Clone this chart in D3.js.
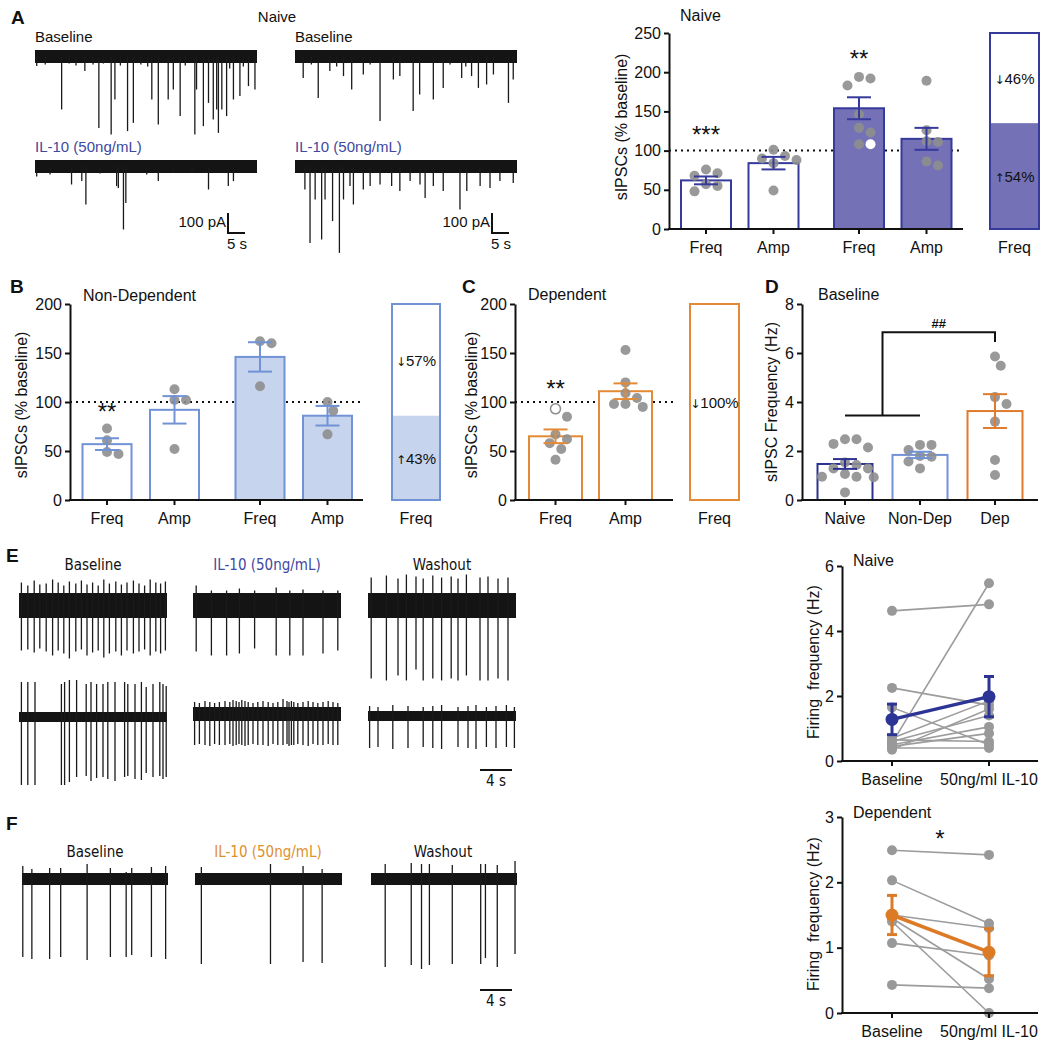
<!DOCTYPE html>
<html><head><meta charset="utf-8">
<script src="https://cdn.jsdelivr.net/npm/d3@7"></script>
<style>body{margin:0;background:#fff}</style>
</head><body><svg id="c" width="1050" height="1046"></svg>
<script>
// ================= DATA =================
// Panel A bar chart (Naive), % baseline
const barLabels = ["Freq", "Amp", "Freq", "Amp"];
const naiveMeans = [62, 84, 154, 115];
const naiveSem = [5, 8, 14, 14];
const naivePoints = [[71, 68, 76, 57, 48, 55], [101, 93, 88, 84, 49, 90], [192, 194, 183, 146, 129, 123, 108], [189, 126, 111, 112, 81, 86]];
const naiveOpen = [null, null, 108, null];
const naiveSplit = [54, 46]; // % up, % down
// Panel B (Non-Dependent)
const nonDepMeans = [57, 92, 146, 86];
const nonDepSem = [6, 14, 15, 10];
const nonDepPoints = [[73, 61, 47, 49], [113, 102, 102, 52], [162, 160, 116], [100, 91, 67]];
const nonDepSplit = [43, 57];
// Panel C (Dependent)
const depLabels = ["Freq", "Amp"];
const depMeans = [65, 111];
const depSem = [7, 8];
const depPoints = [[85, 67, 62, 58, 52, 41], [153, 120, 98, 95, 98, 109, 104]];
const depOpen = [93, null];
const depSplit = [0, 100];
// Panel D baseline sIPSC frequency (Hz)
const groupLabels = ["Naive", "Non-Dep", "Dep"];
const groupMeans = [1.47, 1.84, 3.63];
const groupSem = [0.2, 0.13, 0.69];
const groupPoints = [
  [2.48, 2.48, 2.29, 2.14, 1.29, 1.43, 1.53, 1.29, 0.95, 0.95, 0.93, 1.06, 0.31],
  [2.25, 2.25, 2.04, 1.77, 1.8, 1.57, 1.29],
  [5.86, 5.48, 4.2, 3.92, 3.2, 1.63, 1.02]];
const bracketLow = 3.45, bracketHigh = 6.85, bracketDrop = 6.45;
// Panel E/F right: firing frequency (Hz), baseline vs IL-10
const pairLabels = ["Baseline", "50ng/ml IL-10"];
const naiveFiringBase = [4.62, 2.25, 1.65, 0.55, 0.7, 0.6, 0.5, 0.45, 0.65, 0.4, 0.35];
const naiveFiringIL10 = [4.82, 1.72, 0.5, 5.47, 1.85, 1.4, 1.05, 0.85, 0.6, 0.4, 1.6];
const naiveFiringMean = [1.28, 1.98];
const naiveFiringSem = [0.47, 0.62];
const depFiringBase = [2.49, 2.03, 1.5, 1.4, 1.45, 1.07, 0.43];
const depFiringIL10 = [2.42, 1.37, 1.3, 0.0, 0.52, 0.88, 0.38];
const depFiringMean = [1.5, 0.93];
const depFiringSem = [0.3, 0.36];

// Panel A traces: event times (s) and amplitudes (pA)
const a1T = [0.5, 3, 7.8, 10, 12, 14.6, 17, 18.7, 20, 22.3, 23.4, 25, 27.1, 28.8, 31, 33, 34.2, 36.1, 39.0, 40.5, 42.5, 44, 46.8, 47.3, 49.3, 50.8, 52.2, 53.2, 53.7, 54.7, 56.1, 57, 58.1, 60.0, 61, 62.5, 64.4];
const a1A = [48, 40, 265, 35, 45, 73, 40, 357, 35, 390, 215, 45, 373, 332, 40, 50, 215, 340, 215, 165, 298, 45, 390, 165, 348, 232, 315, 265, 382, 265, 298, 60, 215, 198, 50, 148, 165];
const a2T = [0.5, 4.4, 10.7, 13.7, 14.9, 19, 23.9, 24.4, 25.9, 26.6, 32.7, 36.1, 40.5, 46, 50.8, 56.6, 58.1];
const a2A = [50, 40, 90, 73, 190, 35, 98, 108, 315, 183, 40, 73, 30, 30, 115, 98, 73];
const a3T = [2.4, 4.8, 6.8, 10.2, 12.2, 14.2, 16.6, 20.0, 22, 24.9, 28.8, 30.7, 34.6, 36.5, 40.5, 43.4, 45.4, 48.8, 50, 51.7, 53.7, 56.1, 58.1, 62.5, 63.9];
const a3A = [107, 40, 207, 73, 50, 98, 165, 90, 40, 323, 115, 98, 273, 190, 215, 157, 40, 107, 50, 98, 157, 140, 90, 232, 115];
const a4T = [2.9, 4.4, 5.9, 7.8, 8.8, 11.0, 13.0, 14.2, 16.1, 17.1, 20.0, 22.0, 24.9, 28.3, 30.7, 33.7, 36.6, 38.1, 40.5, 43.4, 48.3, 50.3, 54.2, 57.1, 60.0, 63.9];
const a4A = [115, 382, 165, 365, 165, 273, 432, 165, 98, 190, 115, 98, 90, 98, 123, 73, 90, 157, 98, 123, 215, 123, 98, 107, 73, 82];

// Panel E traces: spike times (s), downward and upward amplitudes (µV)
const e1T = [0.3, 1.1, 1.9, 2.6, 3.4, 4.2, 4.9, 5.6, 6.3, 7.1, 7.8, 8.5, 9.2, 9.9, 10.6, 11.3, 12.1, 12.8, 13.5, 14.3, 15.0, 15.7, 16.4, 17.1, 17.7, 18.3];
const e1D = [90, 88, 94, 86, 92, 100, 90, 96, 106, 92, 88, 100, 94, 90, 104, 96, 92, 100, 90, 96, 92, 88, 100, 92, 96, 90];
const e1U = [46, 40, 50, 42, 44, 52, 46, 40, 48, 44, 50, 42, 46, 40, 52, 44, 48, 42, 46, 50, 44, 40, 52, 46, 44, 48];
const e2T = [0.4, 2.3, 4.2, 5.8, 7.7, 10.4, 12.1, 13.75, 16.25, 18.1];
const e2D = [92, 100, 100, 96, 86, 100, 100, 100, 96, 90];
const e2U = [40, 30, 30, 34, 30, 36, 30, 32, 30, 30];
const e3T = [0.4, 2.3, 3.75, 4.8, 6.0, 6.9, 8.1, 9.2, 10.4, 11.25, 12.3, 14.0, 15.0, 16.25, 17.5];
const e3D = [146, 150, 140, 150, 128, 150, 146, 150, 146, 150, 140, 150, 150, 146, 150];
const e3U = [56, 60, 54, 62, 58, 54, 60, 56, 58, 54, 62, 56, 58, 54, 56];
const e4T = [0.3, 1.1, 2.0, 5.3, 5.7, 6.3, 7.2, 8.4, 9.0, 9.7, 10.5, 11.1, 12.0, 13.2, 13.6, 14.5, 15.3, 15.9, 16.75, 17.6, 18.0, 18.4];
const e4D = [136, 136, 136, 136, 136, 130, 120, 118, 128, 122, 120, 124, 128, 120, 118, 124, 126, 112, 120, 118, 124, 120];
const e4U = [70, 70, 70, 66, 70, 74, 74, 66, 70, 66, 66, 70, 70, 70, 66, 66, 70, 60, 66, 70, 66, 62];
const e5T = [0.2, 0.8, 1.5, 2.1, 2.7, 3.3, 4.0, 4.6, 5.0, 5.4, 5.75, 6.1, 6.5, 6.9, 7.5, 8.1, 8.75, 9.4, 10.0, 10.6, 11.25, 11.75, 12.0, 12.3, 12.6, 13.1, 13.75, 14.4, 15.0, 15.6, 16.25, 16.9, 17.5, 18.1];
const e5D = [62, 60, 62, 64, 60, 62, 62, 60, 64, 62, 60, 62, 64, 62, 60, 62, 62, 64, 60, 62, 62, 60, 64, 62, 62, 60, 62, 64, 60, 62, 62, 60, 62, 62];
const e5U = [24, 22, 26, 24, 22, 24, 26, 24, 28, 26, 24, 28, 26, 24, 22, 24, 26, 24, 22, 24, 30, 26, 24, 26, 24, 22, 24, 26, 24, 22, 24, 26, 24, 22];
const e6T = [0.2, 1.25, 3.1, 5.0, 6.9, 8.1, 9.2, 11.25, 12.5, 13.5, 14.8, 16.0, 17.3, 18.3];
const e6D = [64, 62, 66, 64, 62, 64, 66, 62, 64, 66, 62, 64, 62, 64];
const e6U = [20, 18, 22, 20, 18, 20, 22, 18, 20, 22, 18, 20, 22, 18];
// Panel F traces
const f1T = [0.1, 1.25, 3.5, 4.9, 8.25, 11.2, 13.2, 13.9, 16.4, 18.2];
const f1D = [156, 160, 160, 156, 162, 156, 156, 152, 156, 160];
const f1U = [26, 20, 22, 22, 30, 22, 14, 22, 24, 26];
const f2T = [0.8, 9.5, 13.6, 16.0];
const f2D = [170, 170, 166, 168];
const f2U = [24, 30, 26, 20];
const f3T = [1.8, 5.1, 6.4, 7.4, 10.3, 13.9, 14.5, 16.0, 18.25];
const f3D = [176, 172, 180, 172, 170, 170, 158, 176, 150];
const f3U = [30, 32, 30, 30, 28, 30, 30, 28, 36];

// ================= STYLE =================
const FONT = '"Liberation Sans", Arial, Helvetica, sans-serif';
const NARROW = '"Liberation Sans Narrow", "Arial Narrow", "DejaVu Sans Condensed", sans-serif';
const NAVY = "#363a9a", PURPLE = "#7471b6", LBLUE = "#7193d6", LBLUEFILL = "#c6d4ee", ORANGE = "#e38a36", DORANGE = "#e07a2c";
const DOT = "#8e8e8e";
const svg = d3.select("#c");

function txt(x, y, s, o = {}) {
  const t = svg.append("text").attr("x", x).attr("y", y).text(s)
    .attr("font-family", o.family || FONT).attr("font-size", o.size || 16)
    .attr("fill", o.color || "#111").attr("text-anchor", o.anchor || "start");
  if (o.bold) t.attr("font-weight", "bold");
  if (o.rotate) t.attr("transform", `rotate(-90,${x},${y})`);
  if (o.pre) t.style("white-space", "pre");
  return t;
}

function yAxis(y, x, ticks) {
  const g = svg.append("g").attr("transform", `translate(${x},0)`)
    .call(d3.axisLeft(y).tickValues(ticks).tickFormat(d3.format("d")).tickSize(5).tickSizeOuter(0).tickPadding(3));
  g.select(".domain").attr("stroke", "#111").attr("stroke-width", 2);
  g.selectAll(".tick line").attr("stroke", "#111").attr("stroke-width", 2);
  g.selectAll("text").attr("font-family", FONT).attr("font-size", 16).attr("fill", "#111");
}
function xAxis(x0, x1, yPix, centers, labels) {
  svg.append("line").attr("x1", x0 - 1).attr("x2", x1).attr("y1", yPix).attr("y2", yPix)
    .attr("stroke", "#111").attr("stroke-width", 2);
  centers.forEach((c, i) => {
    svg.append("line").attr("x1", c).attr("x2", c).attr("y1", yPix).attr("y2", yPix + 5)
      .attr("stroke", "#111").attr("stroke-width", 2);
    txt(c, yPix + 24, labels[i], { anchor: "middle" });
  });
}

function swarm(values, y, r) {
  const placed = [];
  const order = values.map((v, i) => ({ v, i, y: y(v) })).sort((a, b) => a.y - b.y);
  const ks = [0, 1, -1, 2, -2, 3, -3, 4, -4, 5, -5];
  order.forEach(p => {
    for (const k of ks) {
      const dx = k * r * 1.15;
      if (placed.every(q => Math.hypot(q.dx - dx, q.y - p.y) >= 2 * r + 0.5)) { p.dx = dx; break; }
    }
    placed.push(p);
  });
  return placed;
}

function barChart(o) {
  const y = o.y;
  if (o.ref != null) {
    svg.append("line").attr("x1", o.x0).attr("x2", o.x1).attr("y1", y(o.ref)).attr("y2", y(o.ref))
      .attr("stroke", "#111").attr("stroke-width", 2).attr("stroke-dasharray", "2,4");
  }
  o.means.forEach((m, i) => {
    const c = o.centers[i];
    svg.append("rect").attr("x", c - o.bw / 2).attr("y", y(m)).attr("width", o.bw).attr("height", y(0) - y(m))
      .attr("fill", o.fills[i]).attr("stroke", o.strokes[i]).attr("stroke-width", 2);
  });
  o.means.forEach((m, i) => {
    const c = o.centers[i];
    const pts = o.points[i].slice();
    const openV = o.open ? o.open[i] : null;
    const all = openV != null ? pts.concat([openV]) : pts;
    const sw = swarm(all, y, 5);
    sw.forEach(p => {
      const isOpen = openV != null && p.i === all.length - 1;
      svg.append("circle").attr("cx", c + p.dx).attr("cy", p.y).attr("r", 5)
        .attr("fill", isOpen ? "#fff" : DOT).attr("fill-opacity", isOpen ? 1 : 0.9)
        .attr("stroke", isOpen ? (o.openStroke || "none") : "none").attr("stroke-width", 1.5);
    });
    const s = o.sem[i], col = o.strokes[i];
    const eg = svg.append("g").attr("stroke", col).attr("stroke-width", 2);
    eg.append("line").attr("x1", c).attr("x2", c).attr("y1", y(m + s)).attr("y2", y(m - s));
    eg.append("line").attr("x1", c - 12).attr("x2", c + 12).attr("y1", y(m + s)).attr("y2", y(m + s));
    eg.append("line").attr("x1", c - 12).attr("x2", c + 12).attr("y1", y(m - s)).attr("y2", y(m - s));
  });
  yAxis(y, o.x0, o.ticks);
  xAxis(o.x0, o.x1, y(0), o.centers, o.labels);
}

function arrowLabel(x, y, arrow, s) {
  const t = svg.append("text").attr("x", x).attr("y", y).attr("text-anchor", "middle")
    .attr("font-family", FONT).attr("font-size", 15).attr("fill", "#111");
  t.append("tspan").attr("font-family", '"DejaVu Sans", sans-serif').attr("font-size", 12).attr("fill", "#111").text(arrow);
  t.append("tspan").text(s);
}

function stacked(x, w, y, split, fill, stroke, lblY) {
  const p = d3.scaleLinear().domain([0, 100]).range(y.range());
  const up = split[0], down = split[1];
  svg.append("rect").attr("x", x).attr("y", p(100)).attr("width", w).attr("height", p(0) - p(100)).attr("fill", "#fff");
  if (up > 0) svg.append("rect").attr("x", x).attr("y", p(up)).attr("width", w).attr("height", p(0) - p(up)).attr("fill", fill);
  svg.append("rect").attr("x", x).attr("y", p(100)).attr("width", w).attr("height", p(0) - p(100))
    .attr("fill", "none").attr("stroke", stroke).attr("stroke-width", 2);
  if (down > 0) arrowLabel(x + w / 2, (p(100) + p(up)) / 2 + 6, "\u2193", down + "%");
  if (up > 0) arrowLabel(x + w / 2, (p(up) + p(0)) / 2 + 6, "\u2191", up + "%");
  txt(x + w / 2, lblY, "Freq", { anchor: "middle" });
}

function sweep(x0, width, tMax, yc, half, times, dn, up, amp) {
  const x = d3.scaleLinear().domain([0, tMax]).range([x0, x0 + width]);
  svg.append("rect").attr("x", x0).attr("y", yc - half).attr("width", width).attr("height", 2 * half).attr("fill", "#141414");
  svg.append("g").selectAll("line").data(times).enter().append("line")
    .attr("x1", d => x(d)).attr("x2", d => x(d))
    .attr("y1", (d, i) => yc - (up ? amp(up[i]) : 0))
    .attr("y2", (d, i) => yc + amp(dn[i]))
    .attr("stroke", "#1a1a1a").attr("stroke-width", 1.3);
}

function pairChart(o) {
  const y = o.y, xb = o.xs[0], xi = o.xs[1];
  o.base.forEach((b, i) => {
    svg.append("line").attr("x1", xb).attr("x2", xi).attr("y1", y(b)).attr("y2", y(o.il10[i]))
      .attr("stroke", "#9c9c9c").attr("stroke-width", 1.6);
  });
  o.base.forEach((b, i) => {
    svg.append("circle").attr("cx", xb).attr("cy", y(b)).attr("r", 5).attr("fill", "#999");
    svg.append("circle").attr("cx", xi).attr("cy", y(o.il10[i])).attr("r", 5).attr("fill", "#999");
  });
  const eg = svg.append("g").attr("stroke", o.color).attr("stroke-width", 3);
  o.mean.forEach((m, j) => {
    const c = o.xs[j], s = o.sem[j];
    eg.append("line").attr("x1", c).attr("x2", c).attr("y1", y(m + s)).attr("y2", y(m - s));
    eg.append("line").attr("x1", c - 5).attr("x2", c + 5).attr("y1", y(m + s)).attr("y2", y(m + s));
    eg.append("line").attr("x1", c - 5).attr("x2", c + 5).attr("y1", y(m - s)).attr("y2", y(m - s));
  });
  svg.append("line").attr("x1", xb).attr("x2", xi).attr("y1", y(o.mean[0])).attr("y2", y(o.mean[1]))
    .attr("stroke", o.color).attr("stroke-width", 3.5);
  o.mean.forEach((m, j) => svg.append("circle").attr("cx", o.xs[j]).attr("cy", y(m)).attr("r", 6.5).attr("fill", o.color));
  yAxis(y, o.x0, o.ticks);
  xAxis(o.x0, o.x1, y(0), o.xs, pairLabels);
}

// ================= PANEL A =================
txt(11, 24, "A", { size: 19, bold: true });
txt(277, 22, "Naive", { anchor: "middle", size: 15 });
txt(35, 42, "Baseline", { size: 15 });
txt(295, 42, "Baseline", { size: 15 });
txt(35, 152, "IL-10 (50ng/mL)", { size: 15, color: "#4048a0" });
txt(295, 152, "IL-10 (50ng/mL)", { size: 15, color: "#4048a0" });
const ampA = d3.scaleLinear().domain([0, 100]).range([0, 20]);
sweep(35, 222, 65, 56.5, 6.5, a1T, a1A, null, ampA);
sweep(35, 222, 65, 166.5, 6.5, a2T, a2A, null, ampA);
sweep(295, 222, 65, 56.5, 6.5, a3T, a3A, null, ampA);
sweep(295, 222, 65, 166.5, 6.5, a4T, a4A, null, ampA);
function scaleBarA(x, yb) {
  const g = svg.append("g").attr("stroke", "#111").attr("stroke-width", 2).attr("fill", "none");
  g.append("path").attr("d", `M${x},${yb - ampA(100)}V${yb}H${x + 17}`);
  txt(x - 2, yb - 6, "100 pA", { anchor: "end", size: 15 });
  txt(x + 9, yb + 16, "5 s", { anchor: "middle", size: 15 });
}
scaleBarA(228, 233);
scaleBarA(492, 233);

// Panel A bar chart
const yA = d3.scaleLinear().domain([0, 250]).range([229, 33]);
txt(680, 21, "Naive");
txt(627, 127, "sIPSCs (% baseline)", { anchor: "middle", rotate: true });
barChart({
  y: yA, x0: 669, x1: 963, centers: [706, 773.5, 859, 926.5], bw: 50, ref: 100,
  means: naiveMeans, sem: naiveSem, points: naivePoints, open: naiveOpen,
  fills: ["#fff", "#fff", PURPLE, PURPLE], strokes: [NAVY, NAVY, NAVY, NAVY],
  ticks: [0, 50, 100, 150, 200, 250], labels: barLabels
});
txt(706, yA(110), "***", { anchor: "middle", size: 24 });
txt(859, yA(207), "**", { anchor: "middle", size: 24 });
stacked(990, 49, yA, naiveSplit, PURPLE, NAVY, 253);

// ================= PANEL B =================
const yB = d3.scaleLinear().domain([0, 200]).range([500, 304]);
txt(10, 293, "B", { size: 19, bold: true });
txt(83, 301, "Non-Dependent");
txt(27, 405, "sIPSCs (% baseline)", { anchor: "middle", rotate: true });
barChart({
  y: yB, x0: 70, x1: 363, centers: [107, 174.5, 260, 327.5], bw: 49, ref: 100,
  means: nonDepMeans, sem: nonDepSem, points: nonDepPoints,
  fills: ["#fff", "#fff", LBLUEFILL, LBLUEFILL], strokes: [LBLUE, LBLUE, LBLUE, LBLUE],
  ticks: [0, 50, 100, 150, 200], labels: barLabels
});
txt(107, yB(82), "**", { anchor: "middle", size: 24 });
stacked(392, 48, yB, nonDepSplit, LBLUEFILL, LBLUE, 524);

// ================= PANEL C =================
txt(462, 293, "C", { size: 19, bold: true });
txt(528, 300, "Dependent");
txt(477, 405, "sIPSCs (% baseline)", { anchor: "middle", rotate: true });
barChart({
  y: yB, x0: 515, x1: 673, centers: [555.5, 625.5], bw: 53, ref: 100,
  means: depMeans, sem: depSem, points: depPoints, open: depOpen, openStroke: "#8e8e8e",
  fills: ["#fff", "#fff"], strokes: [ORANGE, ORANGE],
  ticks: [0, 50, 100, 150, 200], labels: depLabels
});
txt(555.5, yB(105), "**", { anchor: "middle", size: 24 });
stacked(690, 49, yB, depSplit, ORANGE, ORANGE, 524);

// ================= PANEL D =================
const yD = d3.scaleLinear().domain([0, 8]).range([500, 304]);
txt(765, 293, "D", { size: 19, bold: true });
txt(818, 300, "Baseline");
txt(777, 402, "sIPSC Frequency (Hz)", { anchor: "middle", rotate: true });
const centersD = [845, 920, 995];
barChart({
  y: yD, x0: 802, x1: 1038, centers: centersD, bw: 55, ref: null,
  means: groupMeans, sem: groupSem, points: groupPoints,
  fills: ["#fff", "#fff", "#fff"], strokes: ["#2c3290", LBLUE, DORANGE],
  ticks: [0, 2, 4, 6, 8], labels: groupLabels
});
{
  const mid = (centersD[0] + centersD[1]) / 2;
  svg.append("path")
    .attr("d", `M${centersD[0]},${yD(bracketLow)}H${centersD[1]}M${mid},${yD(bracketLow)}V${yD(bracketHigh)}H${centersD[2]}V${yD(bracketDrop)}`)
    .attr("fill", "none").attr("stroke", "#111").attr("stroke-width", 2);
  txt((mid + centersD[2]) / 2, yD(7.02), "##", { anchor: "middle", size: 13, bold: true });
}

// ================= PANEL E =================
const ampE = d3.scaleLinear().domain([0, 100]).range([0, 50]);
txt(6, 562, "E", { size: 19, bold: true });
txt(93, 570, "Baseline", { anchor: "middle", size: 15, family: NARROW });
txt(267, 570, "IL-10 (50ng/mL)", { anchor: "middle", size: 15, family: NARROW, color: "#4048a0" });
txt(442, 570, "Washout", { anchor: "middle", size: 15, family: NARROW });
sweep(19, 148, 18.5, 605.5, 12.5, e1T, e1D, e1U, ampE);
sweep(193, 148, 18.5, 605.5, 12.5, e2T, e2D, e2U, ampE);
sweep(368, 148, 18.5, 605.5, 12.5, e3T, e3D, e3U, ampE);
sweep(19, 148, 18.5, 717, 5, e4T, e4D, e4U, ampE);
sweep(193, 148, 18.5, 714, 7, e5T, e5D, e5U, ampE);
sweep(368, 148, 18.5, 716, 5, e6T, e6D, e6U, ampE);
function scaleBarE(x, yb) {
  svg.append("line").attr("x1", x).attr("x2", x + 32).attr("y1", yb).attr("y2", yb).attr("stroke", "#111").attr("stroke-width", 2);
  txt(x + 16, yb + 16, "4 s", { anchor: "middle", size: 15, family: NARROW });
}
scaleBarE(480, 770);

const yE = d3.scaleLinear().domain([0, 6]).range([761, 566]);
txt(853, 566, "Naive");
txt(819, 662, "Firing  frequency (Hz)", { anchor: "middle", rotate: true, pre: true });
pairChart({
  y: yE, x0: 842, x1: 1038, xs: [892, 989], base: naiveFiringBase, il10: naiveFiringIL10,
  mean: naiveFiringMean, sem: naiveFiringSem, color: "#2c3595", ticks: [0, 2, 4, 6]
});

// ================= PANEL F =================
txt(6, 830, "F", { size: 19, bold: true });
txt(95, 857, "Baseline", { anchor: "middle", size: 15, family: NARROW });
txt(268, 857, "IL-10 (50ng/mL)", { anchor: "middle", size: 15, family: NARROW, color: "#e08f2e" });
txt(443, 857, "Washout", { anchor: "middle", size: 15, family: NARROW });
sweep(22, 146, 18.5, 879, 6, f1T, f1D, f1U, ampE);
sweep(195, 147, 18.5, 879, 6, f2T, f2D, f2U, ampE);
sweep(371, 146, 18.5, 879, 6, f3T, f3D, f3U, ampE);
scaleBarE(480, 990);

const yF = d3.scaleLinear().domain([0, 3]).range([1013, 817]);
txt(853, 818, "Dependent");
txt(819, 914, "Firing  frequency (Hz)", { anchor: "middle", rotate: true, pre: true });
pairChart({
  y: yF, x0: 842, x1: 1038, xs: [892, 989], base: depFiringBase, il10: depFiringIL10,
  mean: depFiringMean, sem: depFiringSem, color: "#dc7a26", ticks: [0, 1, 2, 3]
});
txt(940, yF(2.54), "*", { anchor: "middle", size: 24 });
</script></body></html>
